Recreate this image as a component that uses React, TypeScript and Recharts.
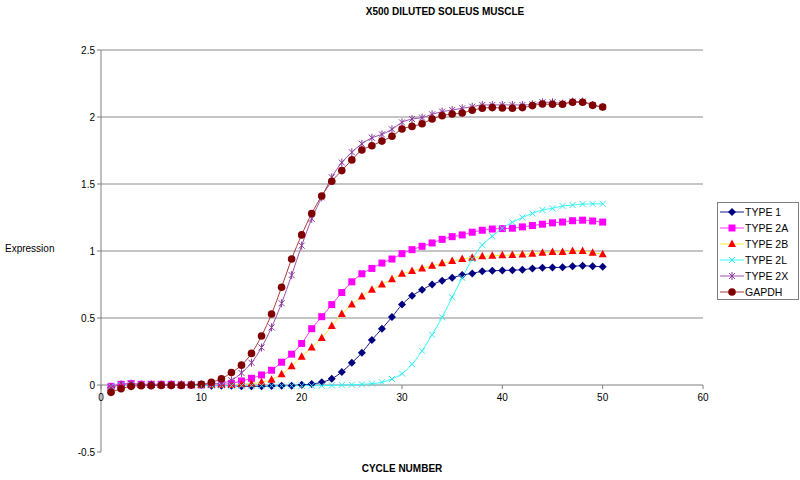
import React from 'react';
import { LineChart, Line, XAxis, YAxis, ReferenceLine } from 'recharts';

const cycles = [1,2,3,4,5,6,7,8,9,10,11,12,13,14,15,16,17,18,19,20,21,22,23,24,25,26,27,28,29,30,31,32,33,34,35,36,37,38,39,40,41,42,43,44,45,46,47,48,49,50];

const type1 = [-0.02,-0.005,0,0,0,0,0,0,0,0,-0.005,-0.005,-0.005,-0.01,-0.01,-0.01,-0.007,-0.005,-0.005,0.002,0.007,0.02,0.047,0.097,0.166,0.24,0.336,0.42,0.507,0.6,0.666,0.71,0.75,0.778,0.8,0.82,0.833,0.848,0.852,0.855,0.857,0.86,0.87,0.875,0.877,0.878,0.886,0.89,0.886,0.883];
const type2A = [-0.01,0.005,0.01,0.005,0.005,0.005,0.005,0,0,0,0.005,0.005,0.012,0.03,0.05,0.075,0.11,0.17,0.23,0.31,0.42,0.51,0.6,0.69,0.77,0.83,0.87,0.91,0.94,0.98,1.01,1.035,1.06,1.087,1.107,1.12,1.14,1.155,1.164,1.167,1.17,1.18,1.19,1.2,1.21,1.216,1.226,1.23,1.224,1.216];
const type2B = [-0.02,-0.005,0,0,0,0,0,0,0,0,0,0,0,0.005,0.01,0.02,0.04,0.08,0.14,0.21,0.28,0.35,0.44,0.53,0.6,0.66,0.71,0.75,0.79,0.83,0.85,0.87,0.89,0.908,0.925,0.94,0.95,0.96,0.965,0.968,0.97,0.973,0.98,0.987,0.993,0.993,1.0,1.0,0.987,0.975];
const type2L = [-0.01,0,0,0,0,0,0,0,-0.003,-0.003,-0.003,-0.003,-0.005,-0.005,-0.005,-0.005,-0.005,-0.005,-0.005,-0.005,-0.005,-0.005,-0.003,0,0.002,0.005,0.01,0.02,0.045,0.085,0.155,0.255,0.375,0.505,0.655,0.8,0.94,1.045,1.11,1.17,1.214,1.25,1.28,1.306,1.318,1.336,1.343,1.35,1.352,1.352];
const type2X = [-0.02,0.005,0.01,0.005,0.005,0.005,0.005,0.005,0.005,0.005,0.008,0.015,0.035,0.09,0.166,0.28,0.43,0.61,0.82,1.04,1.24,1.4,1.55,1.66,1.737,1.8,1.845,1.87,1.908,1.96,1.985,1.995,2.02,2.04,2.052,2.065,2.077,2.09,2.09,2.09,2.09,2.09,2.095,2.11,2.11,2.1,2.115,2.115,2.09,2.075];
const gapdh = [-0.055,-0.028,-0.01,-0.005,-0.005,-0.003,-0.003,-0.003,0,0.005,0.02,0.047,0.093,0.148,0.236,0.366,0.53,0.73,0.94,1.12,1.28,1.41,1.52,1.6,1.68,1.754,1.786,1.82,1.856,1.91,1.93,1.95,1.985,2.01,2.022,2.03,2.05,2.065,2.07,2.067,2.065,2.07,2.085,2.097,2.095,2.095,2.11,2.11,2.087,2.075];

const yTicks = [-0.5, 0, 0.5, 1, 1.5, 2, 2.5];
const xTicks = [0, 10, 20, 30, 40, 50, 60];
const gridValues = [0.5, 1, 1.5, 2, 2.5];

const data = cycles.map((c, i) => ({
  cycle: c,
  t1: type1[i],
  t2a: type2A[i],
  t2b: type2B[i],
  t2l: type2L[i],
  t2x: type2X[i],
  gapdh: gapdh[i],
}));

const FONT = "Arial, 'Liberation Sans', sans-serif";
const W = 800;
const H = 480;
const M_TOP = 50;
const M_RIGHT = 97;
const Y_W = 101;
const X_H = 28;
const Y_MIN = -0.5;
const Y_MAX = 2.5;
const PLOT_H = H - M_TOP - X_H;
const ZERO_Y = M_TOP + PLOT_H * (Y_MAX / (Y_MAX - Y_MIN));
const AXIS = '#7f7f7f';

type MK = (cx: number, cy: number, k?: string) => React.ReactElement;

const diamond = (c: string): MK => (cx, cy, k) => (
  <path key={k} d={`M${cx},${cy - 4}L${cx + 4},${cy}L${cx},${cy + 4}L${cx - 4},${cy}Z`} fill={c} />
);
const square = (c: string): MK => (cx, cy, k) => (
  <rect key={k} x={cx - 3.5} y={cy - 3.5} width={7} height={7} fill={c} />
);
const triangle = (c: string): MK => (cx, cy, k) => (
  <path key={k} d={`M${cx},${cy - 4.5}L${cx + 4},${cy + 3}L${cx - 4},${cy + 3}Z`} fill={c} />
);
const cross = (c: string): MK => (cx, cy, k) => (
  <path key={k} d={`M${cx - 3},${cy - 3}L${cx + 3},${cy + 3}M${cx - 3},${cy + 3}L${cx + 3},${cy - 3}`} stroke={c} strokeWidth={1} fill="none" />
);
const star = (c: string): MK => (cx, cy, k) => (
  <path key={k} d={`M${cx - 3},${cy - 3}L${cx + 3},${cy + 3}M${cx - 3},${cy + 3}L${cx + 3},${cy - 3}M${cx},${cy - 4}L${cx},${cy + 4}`} stroke={c} strokeWidth={1} fill="none" />
);
const circle = (c: string): MK => (cx, cy, k) => (
  <circle key={k} cx={cx} cy={cy} r={3.8} fill={c} />
);

const series = [
  { key: 't1', name: 'TYPE 1', line: '#1a1a8a', marker: diamond('#000080') },
  { key: 't2a', name: 'TYPE 2A', line: '#ff33ff', marker: square('#ff00ff') },
  { key: 't2b', name: 'TYPE 2B', line: '#ffee33', marker: triangle('#ff0000') },
  { key: 't2l', name: 'TYPE 2L', line: '#33ffff', marker: cross('#33e8f0') },
  { key: 't2x', name: 'TYPE 2X', line: '#9a50b0', marker: star('#8a3a9a') },
  { key: 'gapdh', name: 'GAPDH', line: '#a83a3a', marker: circle('#800000') },
];

const XTick = (props: any) => {
  const { x, payload } = props;
  return (
    <g>
      <line x1={x} x2={x} y1={ZERO_Y} y2={ZERO_Y + 4} stroke={AXIS} />
      <text x={x} y={ZERO_Y + 16} textAnchor="middle" fontSize={10} fontFamily={FONT} fill="#000">
        {payload.value}
      </text>
    </g>
  );
};

const Legend = () => (
  <div
    style={{
      position: 'absolute',
      left: 717,
      top: 202,
      width: 82,
      height: 98,
      boxSizing: 'border-box',
      border: '1px solid #808080',
      background: '#fff',
      paddingTop: 1,
    }}
  >
    {series.map((s) => (
      <div key={s.key} style={{ display: 'flex', alignItems: 'center', height: 16, marginLeft: 2 }}>
        <svg width={24} height={16} style={{ display: 'block' }}>
          <line x1={0} x2={24} y1={8} y2={8} stroke={s.line} strokeWidth={1} />
          {s.marker(12, 8)}
        </svg>
        <span style={{ fontFamily: FONT, fontSize: 10.5, color: '#000', marginLeft: 1, whiteSpace: 'nowrap' }}>{s.name}</span>
      </div>
    ))}
  </div>
);

export default function App() {
  return (
    <div style={{ position: 'relative', width: W, height: H, background: '#fff' }}>
      <style>{`body{margin:0;background:#fff}`}</style>
      <div
        style={{
          position: 'absolute',
          left: 0,
          top: 6,
          width: 890,
          textAlign: 'center',
          fontFamily: FONT,
          fontWeight: 'bold',
          fontSize: 10,
          color: '#000',
        }}
      >
        X500 DILUTED SOLEUS MUSCLE
      </div>
      <LineChart width={W} height={H} data={data} margin={{ top: M_TOP, right: M_RIGHT, bottom: 0, left: 0 }}>
        {gridValues.map((v) => (
          <ReferenceLine key={v} y={v} stroke="#8a8a8a" strokeWidth={1} />
        ))}
        <ReferenceLine y={0} stroke={AXIS} strokeWidth={1} />
        <XAxis
          dataKey="cycle"
          type="number"
          domain={[0, 60]}
          ticks={xTicks}
          axisLine={false}
          tickLine={false}
          height={X_H}
          tick={<XTick />}
          interval={0}
          label={{
            value: 'CYCLE NUMBER',
            position: 'insideBottom',
            offset: 8,
            style: { fontFamily: FONT, fontSize: 10, fontWeight: 'bold', fill: '#000' },
          }}
        />
        <YAxis
          type="number"
          domain={[Y_MIN, Y_MAX]}
          ticks={yTicks}
          width={Y_W}
          interval={0}
          axisLine={{ stroke: AXIS }}
          tickLine={{ stroke: AXIS }}
          tickSize={4}
          tick={{ fontFamily: FONT, fontSize: 10, fill: '#000' }}
          label={{
            value: 'Expression',
            position: 'insideLeft',
            offset: 5,
            dy: -3,
            style: { fontFamily: FONT, fontSize: 10, fill: '#000', textAnchor: 'start' },
          }}
        />
        {series.map((s) => (
          <Line
            key={s.key}
            dataKey={s.key}
            name={s.name}
            type="monotone"
            stroke={s.line}
            strokeWidth={1}
            isAnimationActive={false}
            dot={(p: any) => s.marker(p.cx, p.cy, `${s.key}-${p.index}`)}
            activeDot={false}
          />
        ))}
      </LineChart>
      <Legend />
    </div>
  );
}
